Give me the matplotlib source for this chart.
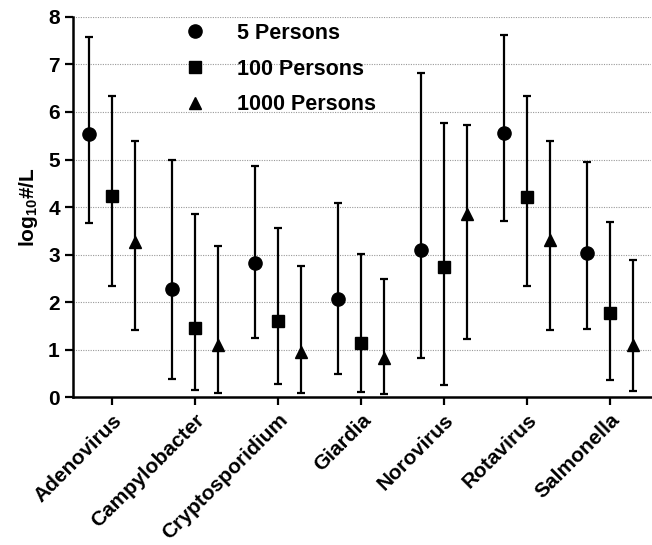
import numpy as np
import matplotlib
matplotlib.use("Agg")
import matplotlib.pyplot as plt
from matplotlib.lines import Line2D

plt.rcParams['font.family'] = ['Liberation Sans', 'DejaVu Sans']
plt.rcParams['font.weight'] = 'bold'
plt.rcParams['mathtext.fontset'] = 'custom'
plt.rcParams['mathtext.bf'] = 'Liberation Sans:bold'
plt.rcParams['mathtext.rm'] = 'Liberation Sans:bold'
plt.rcParams['mathtext.default'] = 'bf'

# --- datos --- #
patogenos = ["Adenovirus", "Campylobacter", "Cryptosporidium", "Giardia",
             "Norovirus", "Rotavirus", "Salmonella"]
series = ["5 Persons", "100 Persons", "1000 Persons"]

media_5 = [5.53, 2.27, 2.82, 2.07, 3.10, 5.55, 3.03]
alto_5 = [7.58, 4.98, 4.87, 4.09, 6.82, 7.62, 4.95]
bajo_5 = [3.67, 0.38, 1.25, 0.49, 0.83, 3.71, 1.44]

media_100 = [4.23, 1.46, 1.60, 1.14, 2.75, 4.21, 1.77]
alto_100 = [6.33, 3.85, 3.57, 3.01, 5.77, 6.34, 3.69]
bajo_100 = [2.35, 0.15, 0.29, 0.12, 0.25, 2.35, 0.36]

media_1000 = [3.27, 1.10, 0.96, 0.82, 3.85, 3.31, 1.09]
alto_1000 = [5.40, 3.19, 2.77, 2.48, 5.72, 5.40, 2.89]
bajo_1000 = [1.41, 0.10, 0.10, 0.07, 1.23, 1.42, 0.13]

# --- grafica --- #
medias = [media_5, media_100, media_1000]
altos = [alto_5, alto_100, alto_1000]
bajos = [bajo_5, bajo_100, bajo_1000]
marcadores = ["o", "s", "^"]
tamanos = [9.5, 8.5, 9]
desplaz = [-0.277, 0.0, 0.277]

fig = plt.figure(figsize=(6.52, 5.45), dpi=100)
ax = fig.add_axes([0.112, 0.271, 0.886, 0.698])

x = np.arange(len(patogenos))
for m, hi, lo, mk, ms, d in zip(medias, altos, bajos, marcadores, tamanos, desplaz):
    m = np.array(m)
    err = [m - np.array(lo), np.array(hi) - m]
    ax.errorbar(x + d, m, yerr=err, fmt=mk, color="black", ms=ms,
                elinewidth=1.6, capsize=2.7, capthick=1.6, zorder=3)

for yv in range(1, 9):
    ax.axhline(yv, color="#999999", lw=0.8, ls=(0, (1, 1.2)), zorder=1)

ax.set_xlim(-0.47, 6.49)
ax.set_ylim(0, 8)
ax.set_yticks(range(0, 9))
ax.set_xticks(x)
ax.set_xticklabels(patogenos, rotation=45, ha="right", rotation_mode="anchor",
                   fontsize=15, fontweight="bold")
for lab in ax.get_yticklabels():
    lab.set_fontsize(15)
    lab.set_fontweight("bold")
ax.tick_params(axis="both", width=1.6, length=6, direction="out")
ax.spines["top"].set_visible(False)
ax.spines["right"].set_visible(False)
ax.spines["left"].set_linewidth(1.8)
ax.spines["bottom"].set_linewidth(1.8)
ax.set_ylabel(r"$\mathbf{log_{10}}$#/L", fontsize=15, fontweight="bold", labelpad=6)

handles = [Line2D([], [], ls="none", marker=mk, color="black", ms=ms)
           for mk, ms in zip(marcadores, tamanos)]
ax.legend(handles, series, loc="upper left", bbox_to_anchor=(0.14, 1.035),
          frameon=False, prop={"weight": "bold", "size": 15.5},
          handletextpad=0.95, labelspacing=0.68)

fig.savefig("out.png", dpi=100)
